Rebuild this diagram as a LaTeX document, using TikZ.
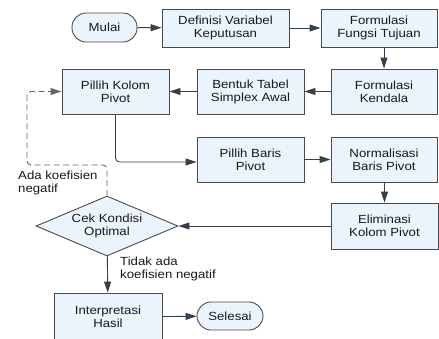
\documentclass[tikz,border=0pt]{standalone}
\usepackage{fontspec}
\setmainfont[FakeStretch=1.12]{Liberation Sans}
\usetikzlibrary{arrows.meta,shapes.geometric}
\definecolor{boxfill}{HTML}{EBF3FD}
\definecolor{boxline}{HTML}{4A4A4A}
\definecolor{arrowc}{HTML}{36404A}
\tikzset{
  base/.style={draw=boxline, line width=0.9pt, fill=boxfill, align=center, inner sep=0pt,
    font=\fontsize{11.8}{13}\selectfont, text=black!90},
  procbox/.style={base, rectangle},
  termbox/.style={base, rectangle, rounded corners=14pt},
  decbox/.style={base, diamond, aspect=2.37, minimum width=142pt, minimum height=60pt},
  flow/.style={draw=arrowc, line width=0.9pt, -{Triangle[length=11pt,width=7pt]}},
  loopline/.style={draw=black!60, line width=0.9pt, dash pattern=on 6pt off 3.5pt, rounded corners=4pt,
    -{Triangle[length=11pt,width=7pt]}},
  lbl/.style={font=\fontsize{11.8}{13}\selectfont, align=left, inner sep=0pt, text=black!90}
}
\begin{document}
\begin{tikzpicture}[x=1pt,y=-1pt]
\clip (0,0) rectangle (439,338);
\fill[white] (0,0) rectangle (439,338);
\node[termbox, minimum width=65pt, minimum height=29pt] (mulai) at (104.5,27.5) {Mulai};
\node[procbox, minimum width=127pt, minimum height=38pt] (def) at (225.5,28) {Definisi Variabel\\Keputusan};
\node[procbox, minimum width=116pt, minimum height=38pt] (fft) at (379,28) {Formulasi\\Fungsi Tujuan};
\node[procbox, minimum width=106pt, minimum height=45pt] (fk) at (384,91.5) {Formulasi\\Kendala};
\node[procbox, minimum width=107pt, minimum height=45pt] (bt) at (250.5,91.5) {Bentuk Tabel\\Simplex Awal};
\node[procbox, minimum width=107pt, minimum height=45pt] (pk) at (115.5,91.5) {Pillih Kolom\\Pivot};
\node[procbox, minimum width=107pt, minimum height=45pt] (pb) at (250.5,159.5) {Pillih Baris\\Pivot};
\node[procbox, minimum width=106pt, minimum height=45pt] (nb) at (384,159.5) {Normalisasi\\Baris Pivot};
\node[procbox, minimum width=107pt, minimum height=46pt] (ek) at (384.5,226) {Eliminasi\\Kolom Pivot};
\node[decbox] (cek) at (107,226) {Cek Kondisi\\Optimal};
\node[procbox, minimum width=108pt, minimum height=48pt] (int) at (108,317) {Interpretasi\\Hasil};
\node[termbox, minimum width=66pt, minimum height=28pt] (sel) at (230,316) {Selesai};
\node[lbl, anchor=west] (ada) at (18,183) {Ada koefisien\\negatif};
\node[lbl, anchor=west] (tidak) at (120,269) {Tidak ada\\koefisien negatif};
\coordinate (c1) at (107,165);
\coordinate (c2) at (27,165);
\coordinate (c3) at (27,91.5);
\draw[flow] (mulai) -- (def);
\draw[flow] (def) -- (fft);
\draw[flow] (fk.north |- fft.south) -- (fk.north);
\draw[flow] (fk) -- (bt);
\draw[flow] (bt) -- (pk);
\draw[flow, rounded corners=4pt] (pk.south) |- ([yshift=-2.5pt]pb.west);
\draw[flow] (pb) -- (nb);
\draw[flow] (nb.south -| ek.north) -- (ek.north);
\draw[flow] (ek) -- (cek);
\draw[flow] (cek) -- (int);
\draw[flow] (int) -- (sel);
\draw[loopline] (cek.north) -- (c1) -- (c2) -- (c3) -- (pk.west);
\end{tikzpicture}
\end{document}
